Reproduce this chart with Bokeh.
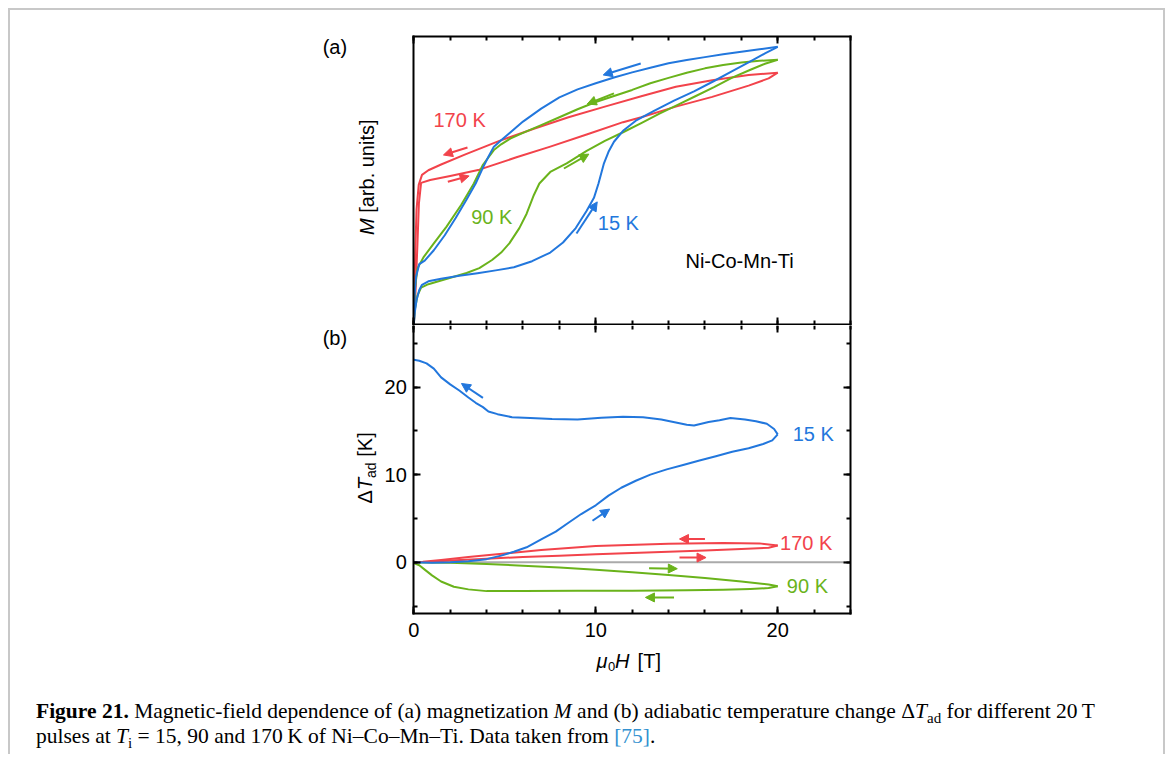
import numpy as np
from bokeh.plotting import figure
from bokeh.models import (Range1d, LinearAxis, SingleIntervalTicker, Label,
                          Arrow, NormalHead, Div)
from bokeh.layouts import column
from bokeh.embed import file_html
from bokeh.resources import INLINE

BLUE = "#2277dd"
RED = "#f2434b"
GREEN = "#6ab31b"
FONT = "Liberation Sans"

# ---------------- panel (a): M [arb. units] vs mu0H [T] ----------------
a15_up_H = [0, 0.05, 0.15, 0.3, 0.45, 0.8, 1.5, 2.5, 3.5, 4.5, 5.5, 6.5, 7.5, 8.2, 8.9, 9.5, 9.9,
            10.15, 10.45, 10.7, 11.0, 11.5, 12.2, 13.2, 14.3, 15.4, 16.5, 17.5, 18.5, 19.3, 20.0]
a15_up_M = [0, 4, 8.5, 12, 13.8, 15.0, 15.9, 16.9, 17.8, 18.8, 19.9, 22.0, 25.0, 28.5, 33.5, 39.5, 44.0,
            49.0, 56.0, 60.0, 63.5, 67.3, 70.8, 74.2, 77.8, 81.0, 84.6, 88.0, 91.4, 94.2, 96.5]
a15_dn_H = [20.0, 19.0, 18.0, 17.0, 16.0, 15.0, 14.0, 13.0, 12.0, 11.0, 10.0, 9.0, 8.0, 7.0, 6.0,
            5.3, 4.8, 4.4, 4.1, 3.8, 3.4, 2.9, 2.3, 1.7, 1.1, 0.6, 0.3, 0.12, 0.04, 0]
a15_dn_M = [96.5, 95.6, 94.8, 93.9, 92.9, 91.9, 90.8, 89.2, 87.6, 85.8, 83.8, 81.7, 78.9, 75.0, 70.5,
            66.7, 64.0, 61.8, 58.3, 54.5, 49.0, 43.4, 37.0, 31.0, 25.8, 22.2, 21.0, 16.5, 10.0, 0]

a90_up_H = [0, 0.05, 0.2, 0.4, 0.8, 1.5, 2.2, 2.9, 3.6, 4.3, 4.8, 5.25, 5.8, 6.2, 6.6, 6.9, 7.5, 8.4,
            9.5, 10.5, 11.5, 12.5, 13.5, 14.5, 15.5, 16.5, 17.5, 18.5, 19.3, 20.0]
a90_up_M = [0, 5, 10, 12.8, 14.0, 15.3, 16.6, 17.9, 19.6, 22.4, 25.0, 28.2, 33.5, 38.5, 45.0, 49.0, 53.0,
            56.0, 60.3, 63.8, 66.8, 70.0, 73.3, 76.3, 79.4, 82.5, 85.8, 88.5, 90.6, 92.0]
a90_dn_H = [20, 19, 18, 17, 16, 15, 14, 13, 12, 11, 10, 9, 8, 7, 6, 5.3, 4.8, 4.4, 3.8, 3.3, 2.6, 1.8,
            1.1, 0.55, 0.2, 0.05, 0]
a90_dn_M = [92.0, 91.6, 91.0, 90.2, 89.0, 87.5, 85.7, 83.8, 81.5, 79.4, 77.3, 74.8, 72.0, 69.3, 66.6,
            64.6, 62.6, 60.6, 55.5, 49.0, 41.5, 34.0, 28.2, 23.5, 19.5, 12.0, 0]

a170_up_H = [0, 0.05, 0.12, 0.2, 0.28, 0.4, 0.9, 2.0, 3.6, 5.6, 7.5, 9.5, 11.5, 12.5, 14.4, 16.4,
             18.4, 19.5, 20.0]
a170_up_M = [0, 5, 15, 28, 42, 49.2, 50.2, 51.6, 53.8, 58.0, 61.8, 66.0, 70.3, 72.0, 75.7, 79.1,
             83.0, 85.5, 87.5]
a170_dn_H = [20, 18.4, 16.4, 14.4, 12.5, 10.5, 8.5, 6.6, 4.7, 2.8, 1.5, 0.8, 0.45, 0.27, 0.15, 0.08,
             0.03, 0]
a170_dn_M = [87.5, 86.7, 84.9, 82.6, 79.3, 75.7, 72.0, 68.0, 63.8, 59.0, 55.6, 53.6, 52.0, 48.5, 40.0,
             25.0, 10.0, 0]

# ---------------- panel (b): Delta T_ad [K] vs mu0H [T] ----------------
b15_up_H = [0, 1, 2, 3, 4, 4.8, 5.5, 6.2, 7.0, 7.8, 8.5, 9.2, 10.0, 10.7, 11.4, 12.2, 13.0, 13.9,
            14.8, 15.7, 16.6, 17.5, 18.4, 19.2, 19.7, 20.0]
b15_up_T = [0, -0.05, 0.0, 0.1, 0.35, 0.75, 1.2, 1.7, 2.6, 3.5, 4.5, 5.5, 6.5, 7.6, 8.5, 9.3, 10.0,
            10.6, 11.1, 11.6, 12.1, 12.6, 13.0, 13.5, 13.9, 14.6]
b15_dn_H = [20.0, 19.8, 19.4, 18.8, 18.2, 17.4, 16.8, 16.2, 15.4, 15.0, 14.4, 13.6, 12.6, 11.5, 10.3,
            9.0, 7.6, 6.4, 5.4, 4.6, 4.1, 3.8, 3.4, 3.0, 2.5, 2.0, 1.5, 1.1, 0.7, 0.3, 0.0]
b15_dn_T = [14.6, 15.2, 15.8, 16.1, 16.3, 16.45, 16.2, 16.0, 15.6, 15.7, 15.95, 16.3, 16.55, 16.6, 16.5,
            16.3, 16.35, 16.45, 16.55, 16.9, 17.2, 17.7, 18.2, 18.8, 19.6, 20.3, 21.1, 22.1, 22.7, 23.0, 23.1]

b170_up_H = [0, 1, 2, 4, 6, 8, 10, 12, 14, 16, 18, 19.5, 20]
b170_up_T = [0, 0.05, 0.2, 0.4, 0.6, 0.75, 0.9, 1.05, 1.2, 1.35, 1.5, 1.65, 1.9]
b170_dn_H = [20, 19, 17, 14, 10, 7, 5, 3, 1.5, 0.5, 0]
b170_dn_T = [1.9, 2.15, 2.2, 2.1, 1.85, 1.4, 1.0, 0.6, 0.25, 0.05, 0]

b90_up_H = [0, 2, 4, 6, 8, 10, 12, 14, 16, 18, 19.5, 20]
b90_up_T = [0, -0.05, -0.2, -0.4, -0.6, -0.85, -1.15, -1.45, -1.8, -2.2, -2.55, -2.75]
b90_dn_H = [20, 19.5, 18.5, 17, 15, 12, 9, 6, 4, 3, 2.2, 1.5, 1.0, 0.6, 0.3, 0]
b90_dn_T = [-2.75, -2.95, -3.05, -3.15, -3.2, -3.25, -3.25, -3.3, -3.3, -3.1, -2.8, -2.2, -1.5, -0.85,
            -0.35, -0.1]

# axis extents of the two panels
H_MIN, H_MAX = 0, 24
M_MIN, M_MAX = 0, 100
T_MIN, T_MAX = -5.9, 27

# direction arrows: (colour, H_start, y_start, H_end, y_end)
arrows_a = [(BLUE, 8.94, 31.6, 10.08, 42.6), (BLUE, 12.47, 90.7, 10.41, 86.7),
            (GREEN, 11.0, 80.3, 9.53, 76.6), (GREEN, 8.25, 54.2, 9.62, 59.2),
            (RED, 2.95, 61.5, 1.63, 58.9), (RED, 1.87, 49.6, 3.04, 51.6)]
arrows_b = [(BLUE, 3.8, 18.75, 2.62, 20.4), (BLUE, 9.82, 4.73, 10.76, 6.06),
            (RED, 16.0, 2.65, 14.6, 2.65), (RED, 14.6, 0.53, 16.06, 0.53),
            (GREEN, 12.93, -0.68, 14.48, -0.74), (GREEN, 14.3, -4.02, 12.73, -4.02)]
# curve labels: (text, colour, H, y)
labels_a = [("170 K", RED, 1.08, 68.5), ("90 K", GREEN, 3.15, 34.9),
            ("15 K", BLUE, 10.11, 32.8), ("Ni-Co-Mn-Ti", "black", 14.93, 19.5)]
labels_b = [("15 K", BLUE, 20.82, 13.8), ("170 K", RED, 20.13, 1.34), ("90 K", GREEN, 20.5, -3.54)]


def mk_axis(loc, bounds, minor, labels, ticks=True, line=True):
    ax = LinearAxis(ticker=SingleIntervalTicker(interval=10, num_minor_ticks=minor),
                    fixed_location=loc, bounds=bounds)
    ax.axis_line_color = "black" if line else None
    ax.axis_line_width = 2
    ax.axis_line_cap = "square"
    ax.major_tick_in = 7 if ticks else 0
    ax.major_tick_out = 0
    ax.minor_tick_in = 4 if ticks else 0
    ax.minor_tick_out = 0
    ax.major_tick_line_width = 2
    ax.minor_tick_line_width = 2
    ax.major_tick_line_color = "black" if ticks else None
    ax.minor_tick_line_color = "black" if ticks else None
    ax.major_label_text_font = FONT
    ax.major_label_text_color = "black"
    if labels:
        ax.major_label_text_font_size = "20px"
        ax.major_label_standoff = 9
    else:
        ax.major_label_text_font_size = "0px"
        ax.major_label_standoff = 0
        ax.major_label_overrides = {-10: "", 0: "", 10: "", 20: "", 30: "", 40: "", 50: "",
                                    60: "", 70: "", 80: "", 90: "", 100: ""}
    return ax


def style(p):
    p.outline_line_color = None
    p.background_fill_color = "white"
    p.border_fill_color = "white"
    p.grid.visible = False


def lbl(p, text, x, y, color="black", size=20, style_="normal", angle=0.0):
    shift = 0.35 * size
    p.add_layout(Label(x=x, y=y, text=text, text_color=color, text_font=FONT,
                       text_font_size=f"{size}px", text_font_style=style_, angle=angle,
                       x_offset=(-shift if angle else 0), y_offset=(0 if angle else shift),
                       text_align="left", text_baseline="alphabetic"))


def arrows(p, lst):
    for c, x0, y0, x1, y1 in lst:
        p.add_layout(Arrow(end=NormalHead(size=9, fill_color=c, line_color=c, line_width=1),
                           x_start=x0, y_start=y0, x_end=x1, y_end=y1,
                           line_color=c, line_width=2))


W = 1153
# the frame fills the whole canvas; visible boxes are drawn by fixed-location axes
XR = (-22.164, 41.20)

# ---------------- figure (a) ----------------
pa = figure(width=W, height=315, x_range=Range1d(*XR), y_range=Range1d(-0.35, 109.1),
            output_backend="svg", toolbar_location=None,
            x_axis_location=None, y_axis_location=None, min_border=0)
style(pa)
pa.add_layout(mk_axis(M_MIN, (H_MIN, H_MAX), 5, False), "below")
pa.add_layout(mk_axis(M_MAX, (H_MIN, H_MAX), 5, False), "above")
pa.add_layout(mk_axis(H_MIN, (M_MIN, M_MAX), 5, False, ticks=False), "left")
pa.add_layout(mk_axis(H_MAX, (M_MIN, M_MAX), 5, False, ticks=False), "right")
for H, M, c in [(a170_dn_H, a170_dn_M, RED), (a170_up_H, a170_up_M, RED),
                (a90_dn_H, a90_dn_M, GREEN), (a90_up_H, a90_up_M, GREEN),
                (a15_dn_H, a15_dn_M, BLUE), (a15_up_H, a15_up_M, BLUE)]:
    pa.line(H, M, line_color=c, line_width=2, line_join="round")
arrows(pa, arrows_a)
for t, c, x, y in labels_a:
    lbl(pa, t, x, y, color=c)
lbl(pa, "(a)", -5.01, 94.0)
lbl(pa, "M", -2.21, 31.1, style_="italic", angle=np.pi / 2)
lbl(pa, "[arb. units]", -2.21, 38.8, angle=np.pi / 2)

# ---------------- figure (b) ----------------
pb = figure(width=W, height=369, x_range=Range1d(*XR), y_range=Range1d(-15.10, 27.02),
            output_backend="svg", toolbar_location=None,
            x_axis_location=None, y_axis_location=None, min_border=0)
style(pb)
# zero reference line across the panel
pb.segment(x0=H_MIN, y0=0, x1=H_MAX, y1=0, line_color="#aaaaaa", line_width=2)
pb.add_layout(mk_axis(T_MIN, (H_MIN, H_MAX), 5, True), "below")
pb.add_layout(mk_axis(T_MAX, (H_MIN, H_MAX), 5, False, line=False), "above")
ax_left = mk_axis(H_MIN, (T_MIN, T_MAX), 2, True)
ax_left.major_label_standoff = 7
pb.add_layout(ax_left, "left")
pb.add_layout(mk_axis(H_MAX, (T_MIN, T_MAX), 2, False), "right")
for H, T, c in [(b90_up_H, b90_up_T, GREEN), (b90_dn_H, b90_dn_T, GREEN),
                (b170_up_H, b170_up_T, RED), (b170_dn_H, b170_dn_T, RED),
                (b15_up_H, b15_up_T, BLUE), (b15_dn_H, b15_dn_T, BLUE)]:
    pb.line(H, T, line_color=c, line_width=2, line_join="round")
arrows(pb, arrows_b)
for t, c, x, y in labels_b:
    lbl(pb, t, x, y, color=c)
lbl(pb, "(b)", -5.01, 24.85)
# y label: Delta T_ad [K]
lbl(pb, "\u0394", -2.3, 6.7, angle=np.pi / 2)
lbl(pb, "T", -2.3, 8.23, style_="italic", angle=np.pi / 2)
lbl(pb, "ad", -2.08, 9.62, size=14, angle=np.pi / 2)
lbl(pb, "[K]", -2.3, 12.04, angle=np.pi / 2)
# x label: mu0H [T]
lbl(pb, "\u03bc", 10.04, -12.13, style_="italic")
lbl(pb, "0", 10.67, -12.48, size=13)
lbl(pb, "H", 11.05, -12.13, style_="italic")
lbl(pb, "[T]", 12.3, -12.13)

caption_html = (
    '<div style="margin-left:21px;font-family:\'Liberation Serif\',serif;font-size:21.5px;'
    'line-height:25px;color:#000;white-space:nowrap;">'
    '<b>Figure 21.</b> Magnetic-field dependence of (a) magnetization <i>M</i> and (b) adiabatic '
    'temperature change \u0394<i>T</i><sub style="font-size:15px;line-height:0">ad</sub> for different 20\u2009T<br>'
    'pulses at <i>T</i><sub style="font-size:15px;line-height:0">i</sub> = 15, 90 and 170\u2009K of Ni\u2013Co\u2013Mn\u2013Ti. '
    'Data taken from <span style="color:#3391d0">[75]</span>.</div>'
)
cap = Div(text=caption_html, width=W, height=50)

layout = column(pa, pb, cap, styles={"margin-left": "8px", "margin-top": "8px",
                                     "width": "1157px",
                                     "border-top": "2px solid #c8c8c8",
                                     "border-left": "2px solid #c8c8c8",
                                     "border-right": "2px solid #c8c8c8",
                                     "background-color": "white"})

open("out.html", "w").write(file_html(layout, INLINE))
